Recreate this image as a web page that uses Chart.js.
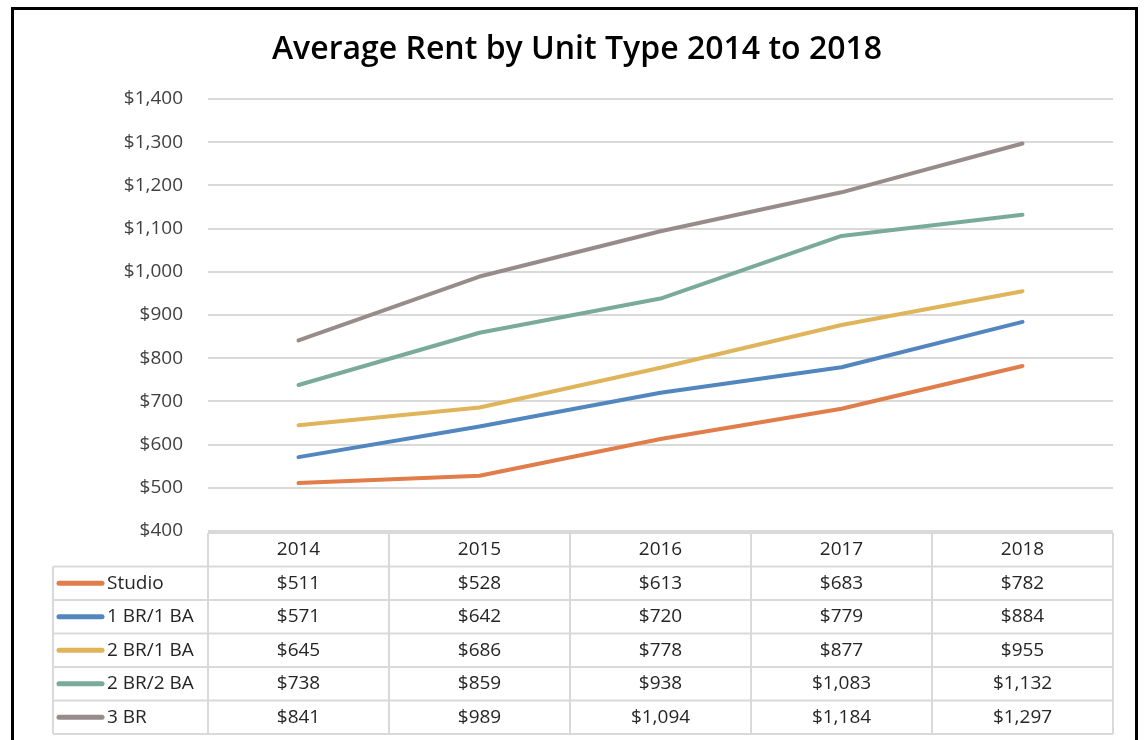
<!DOCTYPE html>
<html>
<head>
<meta charset="utf-8">
<script src="https://cdn.jsdelivr.net/npm/chart.js@4/dist/chart.umd.min.js"></script>
<style>
  html, body { margin: 0; padding: 0; background: #fff; }
  #wrap { width: 1144px; height: 740px; }
</style>
</head>
<body>
<div id="wrap"><canvas id="rentChart" width="1144" height="740"></canvas></div>
<script>
// data
var years = ['2014', '2015', '2016', '2017', '2018'];
var unitTypes = ['Studio', '1 BR/1 BA', '2 BR/1 BA', '2 BR/2 BA', '3 BR'];
var studio = [511, 528, 613, 683, 782];
var br1ba1 = [571, 642, 720, 779, 884];
var br2ba1 = [645, 686, 778, 877, 955];
var br2ba2 = [738, 859, 938, 1083, 1132];
var br3 = [841, 989, 1094, 1184, 1297];
var colors = ['#e07d4b', '#5286be', '#dfb45a', '#7aaa9a', '#988c8b'];

var FONT = '"Open Sans", sans-serif';
var TXT = '#262626';

function money(v) {
  return '$' + v.toLocaleString('en-US');
}

var allSeries = [studio, br1ba1, br2ba1, br2ba2, br3];
var datasets = allSeries.map(function (vals, i) {
  return {
    label: unitTypes[i],
    data: vals,
    borderColor: colors[i],
    backgroundColor: colors[i],
    borderWidth: 4,
    pointRadius: 0,
    tension: 0,
    borderCapStyle: 'round',
    borderJoinStyle: 'round'
  };
});

// outer frame + data table under the plot
var tablePlugin = {
  id: 'dataTable',
  beforeDraw: function (chart) {
    var c = chart.ctx;
    c.save();
    c.strokeStyle = '#000';
    c.lineWidth = 3;
    c.strokeRect(12.5, 8.5, 1124, 800);
    c.restore();
  },
  afterDraw: function (chart) {
    var c = chart.ctx;
    var x = chart.scales.x;
    var area = chart.chartArea;
    var half = (area.right - area.left) / years.length / 2;
    var top = area.bottom + 2;
    var rowH = 33.5;
    var left = 53;
    c.save();
    c.strokeStyle = '#d9d9d9';
    c.lineWidth = 2;
    var bottom = top + rowH * (unitTypes.length + 1);
    // horizontal lines
    c.beginPath();
    c.moveTo(area.left, top);
    c.lineTo(area.right, top);
    for (var r = 1; r <= unitTypes.length + 1; r++) {
      c.moveTo(left, top + rowH * r);
      c.lineTo(area.right, top + rowH * r);
    }
    // vertical lines
    c.moveTo(left, top + rowH);
    c.lineTo(left, bottom);
    for (var i = 0; i < years.length; i++) {
      var cx = x.getPixelForValue(i);
      c.moveTo(cx - half, top);
      c.lineTo(cx - half, bottom);
    }
    c.moveTo(area.right, top);
    c.lineTo(area.right, bottom);
    c.stroke();

    c.fillStyle = TXT;
    c.font = '19px ' + FONT;
    c.textAlign = 'center';
    c.textBaseline = 'middle';
    years.forEach(function (y, i) {
      c.fillText(y, x.getPixelForValue(i), top + rowH / 2);
    });
    allSeries.forEach(function (vals, s) {
      var cy = top + rowH * (s + 1.5);
      vals.forEach(function (v, i) {
        c.fillText(money(v), x.getPixelForValue(i), cy);
      });
      // legend key
      c.strokeStyle = colors[s];
      c.lineWidth = 5;
      c.lineCap = 'round';
      c.beginPath();
      c.moveTo(59, cy);
      c.lineTo(102, cy);
      c.stroke();
      c.textAlign = 'left';
      c.fillText(unitTypes[s], 107, cy);
      c.textAlign = 'center';
    });
    c.restore();
  }
};

var ctx = document.getElementById('rentChart').getContext('2d');
var rentChart = new Chart(ctx, {
  type: 'line',
  data: { labels: years, datasets: datasets },
  options: {
    responsive: false,
    animation: false,
    layout: { padding: { left: 10, right: 0, top: 0, bottom: 209 } },
    plugins: {
      legend: { display: false },
      tooltip: { enabled: false },
      title: {
        display: true,
        text: 'Average Rent by Unit Type 2014 to 2018',
        color: '#000',
        font: { family: FONT, size: 32, weight: '600', lineHeight: 1.2 },
        padding: { top: 31, bottom: 29.6 }
      }
    },
    scales: {
      x: {
        display: false,
        offset: true
      },
      y: {
        min: 400,
        max: 1400,
        afterFit: function (scale) { scale.width = 198; },
        border: { display: false },
        grid: { color: '#d9d9d9', lineWidth: 2, drawTicks: false },
        ticks: {
          stepSize: 100,
          padding: 25,
          color: '#404040',
          font: { family: FONT, size: 19 },
          callback: function (v) { return money(v); }
        }
      },
      yRight: {
        position: 'right',
        min: 400,
        max: 1400,
        afterFit: function (scale) { scale.width = 31; },
        border: { display: false },
        grid: { display: false },
        ticks: { display: false }
      }
    }
  },
  plugins: [tablePlugin]
});
</script>
</body>
</html>
